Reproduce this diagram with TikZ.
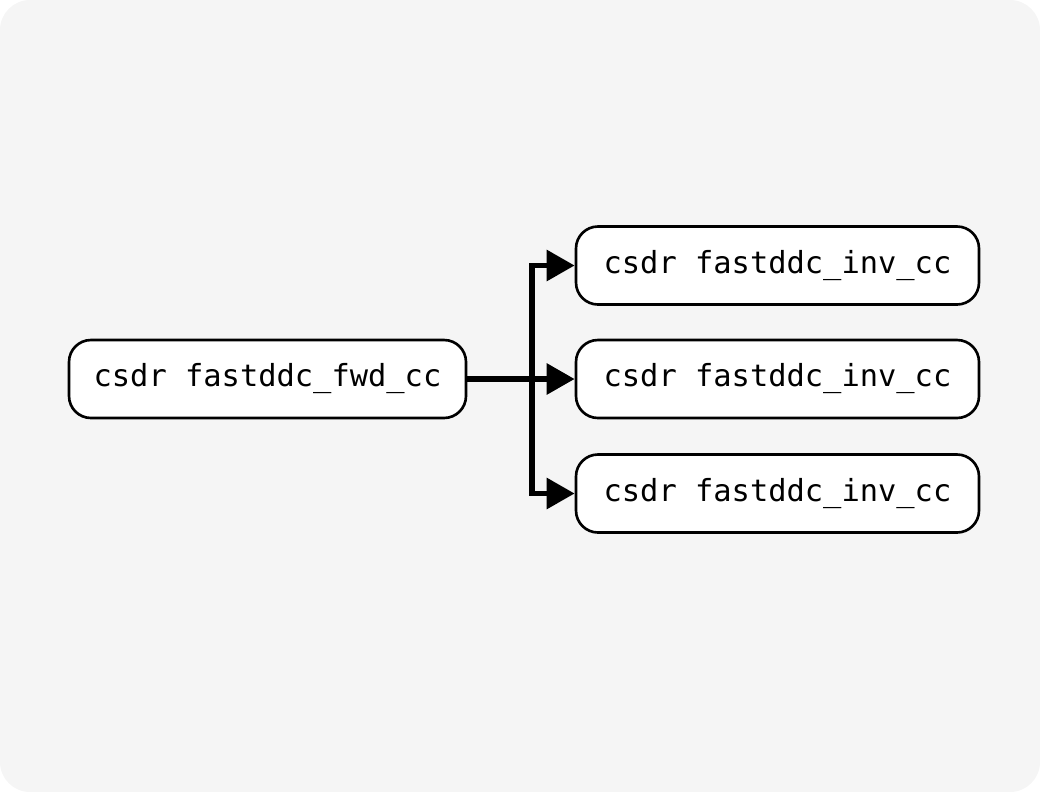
\documentclass[tikz,border=0pt]{standalone}
\usepackage{fontspec}
\setmonofont{DejaVu Sans Mono}
\usetikzlibrary{arrows.meta, positioning}
\definecolor{canvasgray}{RGB}{245, 245, 245}
\tikzset{
  cmdbox/.style  = {rectangle, rounded corners=0.44cm, draw=black, fill=white, line width=1.5pt, minimum height=1.56cm, align=center, inner sep=0pt, font=\ttfamily\fontsize{17.3}{20}\selectfont},
  pipe/.style    = {-{Triangle[length=0.56cm, width=0.6cm]}, line width=3.4pt, black},
}
\begin{document}
\begin{tikzpicture}

% ================= Hintergrund =================
\fill [canvasgray, rounded corners=0.6cm] (0,0) rectangle (20.8,-15.84);
\useasboundingbox (0,0) rectangle (20.8,-15.84);

% ================= Knoten =================
\node (fwd)  [cmdbox, minimum width=7.94cm] at (5.35, -7.58)  {csdr fastddc\_fwd\_cc};
\node (inva) [cmdbox, minimum width=8.06cm] at (15.55, -5.31) {csdr fastddc\_inv\_cc};
\node (invb) [cmdbox, minimum width=8.06cm] at (15.55, -7.58) {csdr fastddc\_inv\_cc};
\node (invc) [cmdbox, minimum width=8.06cm] at (15.55, -9.87) {csdr fastddc\_inv\_cc};

% ================= Verbindungen =================
\draw [pipe] (fwd.east) -- ([xshift=1.3cm]fwd.east) |- (inva.west);
\draw [pipe] (fwd.east) -- (invb.west);
\draw [pipe] (fwd.east) -- ([xshift=1.3cm]fwd.east) |- (invc.west);

\end{tikzpicture}
\end{document}
